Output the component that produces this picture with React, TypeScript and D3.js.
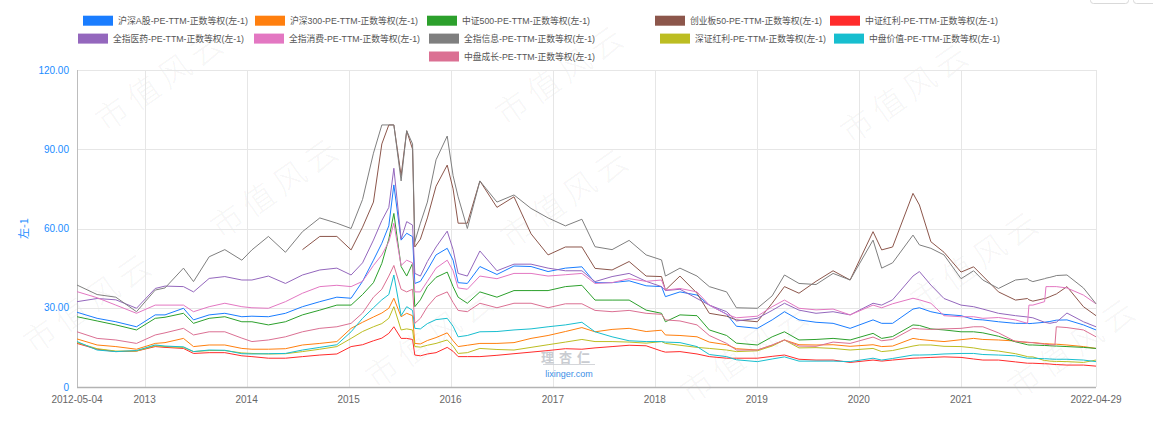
import React from "react";
import * as d3 from "d3";

// Sample dates (weekly closes picked at turning points)
const dateLabels = [
  "2012-05-04", "2012-07-15", "2012-09-20", "2012-12-03", "2013-02-08", "2013-03-15",
  "2013-05-20", "2013-06-25", "2013-08-20", "2013-10-15", "2013-12-15", "2014-01-20",
  "2014-03-20", "2014-05-20", "2014-07-20", "2014-09-20", "2014-11-20", "2015-01-10",
  "2015-02-20", "2015-03-31", "2015-04-30", "2015-05-25", "2015-06-12", "2015-07-08",
  "2015-07-28", "2015-08-18", "2015-08-26", "2015-09-15", "2015-10-10", "2015-11-10",
  "2015-12-20", "2016-01-10", "2016-01-28", "2016-03-01", "2016-04-15", "2016-06-15",
  "2016-08-15", "2016-10-15", "2016-12-15", "2017-02-15", "2017-04-15", "2017-06-01",
  "2017-08-01", "2017-10-01", "2017-12-01", "2018-01-25", "2018-02-08", "2018-04-01",
  "2018-06-01", "2018-07-15", "2018-09-15", "2018-10-20", "2019-01-03", "2019-02-25",
  "2019-04-10", "2019-06-01", "2019-08-01", "2019-10-01", "2019-12-01", "2020-02-21",
  "2020-03-23", "2020-05-01", "2020-07-13", "2020-08-05", "2020-09-15", "2020-11-01",
  "2021-01-01", "2021-02-15", "2021-03-20", "2021-05-15", "2021-07-15", "2021-08-27",
  "2021-09-01", "2021-09-15", "2021-10-27", "2021-11-01", "2021-11-15", "2021-12-03",
  "2021-12-08", "2022-01-15", "2022-03-15", "2022-04-29",
];

const hsA = [
  28.3, 26, 24.7, 22.8, 27.3, 27.3, 29.8, 25.4, 27.3, 27.9, 26.6, 26.8, 26.6, 27.9, 30.4, 32.3,
  34, 33.6, 40, 48, 54.4, 61, 76.5, 55.6, 58.2, 56.9, 39.2, 40, 44.3, 50, 52.5, 48, 39.5, 39.2,
  45.6, 42.6, 45.8, 45.6, 43.7, 45, 45.5, 39.5, 39.5, 40.2, 38.3, 38, 34.2, 36, 34.8, 31, 27.6,
  23, 22.2, 25.4, 28.5, 25.4, 24.5, 24.1, 22.2, 25.4, 24.1, 24.1, 29.5, 30, 28.5, 27.5, 27,
  25.6, 25.4, 24.7, 24.1, 24.1, 24, 24.1, 24.5, 24.6, 24.8, 25.2, 25.3, 25.4, 23.5, 21.6,
];
const hs300 = [
  18.2, 15.9, 15.3, 14.3, 16.5, 16.8, 18.4, 15.3, 15.9, 15.9, 14.6, 14.3, 14.3, 14.5, 15.9, 16.5,
  17.2, 22.2, 24.5, 26.5, 28, 29.8, 33.6, 26.6, 27.9, 27, 16.5, 16.3, 17.6, 18.7, 20.5, 17.5,
  15.3, 15.8, 16.5, 16.5, 16.8, 18.4, 19.5, 21, 22.5, 20.9, 21.8, 22.2, 21, 21.5, 19.7, 19.5,
  19, 17, 16, 14.5, 14, 15.8, 17.8, 16, 15.9, 16, 15.4, 16, 15.3, 15.5, 18.4, 18, 17.6, 17.2,
  17.9, 18.4, 18, 17.8, 17.4, 16.8, 16.8, 16.8, 16.4, 16.4, 16.3, 16.2, 16.2, 15.9, 15.3, 14.6,
];
const zz500 = [
  26.6, 25, 23.5, 21.6, 26, 26.4, 27.9, 24.1, 26, 26.6, 24.7, 24.7, 23.5, 24.7, 27.3, 29.1, 31,
  31, 35, 39.5, 46.8, 56, 65.7, 45.6, 42, 46.8, 30.4, 33, 38, 41.5, 43.5, 38, 34, 31.7, 36, 34,
  36.5, 36.5, 36.5, 38, 38.5, 32.9, 32.9, 32.9, 29.1, 27.9, 24.7, 27.3, 27, 21.6, 19.5, 16.6,
  15.9, 19, 20.9, 17.8, 18, 18.4, 17.8, 20.3, 18.4, 19.1, 23.5, 23.3, 22, 21.6, 20.9, 20.9,
  20.5, 19.2, 17.1, 16, 15.9, 15.9, 15.7, 15.7, 15.6, 15.5, 15.5, 15.3, 15, 14.6,
];
const cyb50 = [
  null, null, null, null, null, null, null, null, null, null, null, null, null, null, 52, 57, 57,
  51.9, 60.5, 70, 92, 99.2, 99.2, 80, 97, 90, 53, 56, 64, 76, 84, 75, 62, 62, 78, 68, 72, 58,
  50, 53, 53, 44.9, 44.3, 47.5, 42, 41.8, 36.7, 42, 35.5, 27.9, 26.8, 25.4, 24.7, 31.7, 38,
  35.5, 40, 44, 40.5, 58.8, 51.9, 53, 73.3, 68.9, 55, 51, 43.5, 45.5, 42, 36, 32.9, 33.5, 33,
  32.5, 33.5, 33.6, 34.2, 35, 35.2, 38, 30.4, 27,
];
const zzhl = [
  16.5, 14.3, 13.4, 13.6, 15.3, 15, 14.6, 12.7, 13, 13, 11.8, 11.5, 10.9, 10.9, 11.5, 12.1, 12.5,
  15.3, 16, 17.5, 18.5, 20.3, 22.8, 18.4, 18.4, 18, 12.1, 11.8, 12.5, 13, 15, 13.5, 11.5, 11.5,
  11.5, 12, 12.6, 13.2, 13.8, 14.5, 14.3, 14.8, 15.3, 15.8, 15.6, 13.6, 13.2, 13.4, 12.5, 11.5,
  10.9, 10.9, 10.9, 11.6, 12.1, 10.5, 10.2, 10.2, 9.3, 10.2, 9.8, 10.2, 10.9, 11, 11.2, 11.4,
  11.2, 10.6, 10.2, 10.2, 9.5, 9, 9, 9, 8.8, 8.8, 8.7, 8.5, 8.5, 8.3, 8.3, 7.9,
];
const qzyy = [
  32.3, 33.5, 33, 29.8, 37.3, 38.2, 38, 36, 41.1, 41.8, 40.5, 40.5, 42, 39.2, 42.4, 44.3, 45,
  42.4, 47, 55.6, 63, 68, 82.8, 56, 62.6, 61.3, 43, 42, 47.5, 53, 59, 52, 43, 42, 51.5, 44,
  46.5, 46.5, 45, 44, 44, 39.9, 41.8, 43, 40, 38, 36.5, 37, 33.5, 31, 28.5, 25, 26, 29, 31.7,
  29.1, 27.9, 28.5, 27.3, 31.7, 31, 33, 42, 43.7, 38.6, 33.5, 31, 30.4, 29.5, 27.9, 27, 26.5,
  26.4, 26.2, 24.5, 24.4, 24.1, 24.5, 24.5, 28, 24.7, 22.8,
];
const qzxf = [
  36.1, 33.8, 31, 27.9, 31, 31, 31, 28.5, 30.4, 31.7, 30.4, 30, 29.8, 32.3, 35.5, 38, 38.5, 38,
  40, 46, 50, 55, 62, 46, 48, 47, 36, 36, 40, 45, 48, 44, 37.5, 37, 42, 41, 43, 43, 42, 42.5,
  43, 39.2, 39.5, 41, 40, 40.5, 36.7, 37.3, 36, 31, 27.5, 26.2, 26.8, 30.4, 32.9, 29.8, 29.2,
  29.5, 27.3, 31, 30, 31.5, 33.6, 33, 31.7, 27, 26.6, 26.6, 26, 26.3, 25.4, 24.1, 31, 31, 32.3,
  38, 38, 38, 38, 37.5, 34.8, 31.5,
];
const qzxx = [
  38.6, 35, 34, 28.5, 36.7, 37.5, 45, 39.9, 49.3, 52, 48, 51.9, 57, 51, 58.8, 64, 62, 60, 71,
  88.5, 99.2, 99.2, 99.2, 78, 97, 92, 55, 62, 70, 86, 95, 80, 72, 60, 78, 70, 72.7, 67.6, 64,
  61, 63.5, 53.1, 52, 55.5, 50, 48.1, 42, 45, 42, 38, 36, 30, 29.8, 34.5, 42.4, 39.2, 38.8, 43,
  40.5, 55.6, 45, 47, 57.5, 53.8, 52.5, 50, 41, 44, 40.5, 37.3, 40.5, 41, 40.5, 39.9, 41, 41.2,
  41.5, 42, 42.2, 42.4, 37.5, 31.5,
];
const szhl = [
  16.8, 14.5, 13.6, 13.6, 15.6, 15.3, 15, 13.4, 13.8, 13.8, 12.9, 12.7, 12.5, 12.6, 13.4, 14.3,
  15.3, 18.4, 21, 22.8, 24, 26, 30.4, 21.6, 22, 21.6, 15.3, 15.1, 15.8, 16.5, 17.8, 15.5, 12.7,
  13, 14.6, 14.2, 14, 15, 16, 17, 18, 17.2, 17.2, 17, 16.6, 17.2, 16.5, 15.8, 15, 14.6, 14,
  13.4, 13.7, 15.5, 17.8, 14.8, 14.9, 14.6, 14, 14.6, 13.4, 13.8, 15.5, 15.9, 15.9, 15.4, 15.3,
  14.8, 14.2, 13.6, 12.6, 11.5, 11.4, 11.4, 10, 10, 9.8, 9.7, 9.7, 9.6, 9.3, 10.2,
];
const zpjz = [
  17.2, 14, 13.4, 13.8, 15.9, 15.5, 15.2, 13.4, 14, 13.9, 12.6, 12.5, 12.6, 12.7, 14, 15, 16,
  20.9, 26, 30, 33, 35, 42.4, 27, 30.4, 29, 22.2, 22, 24, 25.5, 26, 23, 19, 19.5, 20.9, 21,
  21.6, 22, 22.8, 23.5, 24.5, 20.9, 19, 17.5, 17.2, 17.2, 17, 16.8, 15.3, 12.3, 11.5, 10.3,
  9.6, 10.6, 11.4, 9.8, 9.8, 9.8, 9.6, 10.9, 10.2, 10.8, 12.1, 12.1, 12.2, 12.5, 12.7, 12.7,
  12.3, 12.1, 11.8, 10.9, 10.9, 10.9, 10.7, 10.7, 10.6, 10.5, 10.5, 10.5, 10.2, 9.6,
];
const zpcz = [
  20.9, 18.4, 17.8, 16.5, 19.7, 20.5, 22.2, 19.7, 20.9, 20.9, 18.5, 17.2, 17.8, 19, 20.9, 22.2,
  22.8, 24.1, 28, 34, 37, 42, 46, 37, 36, 37, 24.1, 26, 30.4, 34.2, 36, 32, 29, 28.5, 31.7, 30,
  31.7, 31.7, 30, 31.5, 31.5, 29, 28.5, 29, 27.9, 27.5, 25.4, 25, 23.5, 19.5, 16.5, 14, 14,
  15.9, 17.8, 15.5, 15.4, 17, 16.5, 18.9, 17.5, 18, 22.2, 22, 21.8, 22, 22.2, 22.8, 22.8, 20.5,
  17.2, 17, 16.9, 16.8, 16.2, 16.2, 16, 15.9, 22.8, 22.5, 21.6, 19,
];

const seriesNames = [
  "沪深A股-PE-TTM-正数等权(左-1)",
  "沪深300-PE-TTM-正数等权(左-1)",
  "中证500-PE-TTM-正数等权(左-1)",
  "创业板50-PE-TTM-正数等权(左-1)",
  "中证红利-PE-TTM-正数等权(左-1)",
  "全指医药-PE-TTM-正数等权(左-1)",
  "全指消费-PE-TTM-正数等权(左-1)",
  "全指信息-PE-TTM-正数等权(左-1)",
  "深证红利-PE-TTM-正数等权(左-1)",
  "中盘价值-PE-TTM-正数等权(左-1)",
  "中盘成长-PE-TTM-正数等权(左-1)",
];
const seriesValues = [hsA, hs300, zz500, cyb50, zzhl, qzyy, qzxf, qzxx, szhl, zpjz, zpcz];

const yTicks = [0, 30, 60, 90, 120];
const yearTicks = ["2013", "2014", "2015", "2016", "2017", "2018", "2019", "2020", "2021"];
const axisTitle = "左-1";
const watermarkText = "市值风云";

// Presentation
const colors = [
  "#1a7dff", "#ff7f0e", "#2ca02c", "#8c564b", "#ff2b2b", "#9467bd",
  "#e377c2", "#7f7f7f", "#bcbd22", "#17becf", "#db7093",
];
// legend: [row, swatch left, label width]
const legendPlacement: [number, number, number][] = [
  [0, 83, 130], [0, 255, 128], [0, 427, 128], [0, 655, 132], [0, 830, 133],
  [1, 78, 131], [1, 254, 131], [1, 429, 131], [1, 660, 131], [1, 834, 131],
  [2, 429, 131],
];
const legendRowY = [20.7, 38.6, 56.5];
const watermarkSpots: [number, number][] = [
  [160, 78], [560, 72], [905, 90],
  [275, 185], [565, 195], [975, 258],
  [88, 300], [430, 335], [745, 350], [1072, 345],
];

const W = 1153;
const H = 428;
const M = { left: 77, right: 1096, top: 70, bottom: 387 };
const FONT = "'Liberation Sans', Arial, 'Noto Sans CJK SC', sans-serif";

export default function App() {
  const parse = d3.utcParse("%Y-%m-%d");
  const dates = dateLabels.map((s) => parse(s) as Date);
  const x = d3
    .scaleUtc()
    .domain([dates[0], dates[dates.length - 1]])
    .range([M.left, M.right]);
  const y = d3.scaleLinear().domain([0, 120]).range([M.bottom, M.top]);

  const line = d3
    .line<number | null>()
    .defined((v) => v != null)
    .x((_, i) => x(dates[i]))
    .y((v) => y(v as number));

  const yearDates = yearTicks.map((s) => parse(s + "-01-01") as Date);
  const fmtEnd = d3.utcFormat("%Y-%m-%d");

  return (
    <svg
      width={W}
      height={H}
      style={{ position: "absolute", left: 0, top: 0, background: "#fff" }}
      fontFamily={FONT}
    >
      <rect width={W} height={H} fill="#fff" />

      {/* watermark */}
      <g fill="#000" fillOpacity={0.055} fontSize={32} fontFamily="'Noto Sans CJK SC', sans-serif" fontWeight={300}>
        {watermarkSpots.map(([cx, cy], i) => (
          <text
            key={i}
            x={cx}
            y={cy}
            textAnchor="middle"
            dominantBaseline="central"
            transform={`rotate(-35 ${cx} ${cy})`}
            letterSpacing={6}
          >
            {watermarkText}
          </text>
        ))}
      </g>

      {/* top-right toolbar edges */}
      <g fill="none" stroke="#d9d9d9">
        <rect x={1090.5} y={-20} width={38} height={23.5} rx={3} />
        <rect x={1133.5} y={-20} width={40} height={23.5} rx={3} />
      </g>

      {/* grid */}
      <g stroke="#e6e6e6" strokeWidth={1}>
        {yTicks.filter((t) => t > 0).map((t) => (
          <line key={t} x1={M.left} x2={M.right} y1={Math.round(y(t)) + 0.5} y2={Math.round(y(t)) + 0.5} />
        ))}
        {yearDates.map((d, i) => (
          <line key={i} x1={Math.round(x(d)) + 0.5} x2={Math.round(x(d)) + 0.5} y1={M.top} y2={M.bottom} />
        ))}
        <line x1={M.right + 0.5} x2={M.right + 0.5} y1={M.top} y2={M.bottom} />
      </g>

      {/* axes */}
      <line x1={M.left + 0.5} x2={M.left + 0.5} y1={M.top} y2={M.bottom} stroke="#bdbdbd" />
      <line x1={M.left} x2={M.right} y1={M.bottom + 0.5} y2={M.bottom + 0.5} stroke="#b3b3b3" strokeWidth={1.6} />

      {/* y tick labels */}
      <g fill="#1a8cff" fontSize={10} textAnchor="end">
        {yTicks.map((t) => (
          <text key={t} x={69} y={y(t)} dy="0.35em">
            {t === 0 ? "0" : d3.format(".2f")(t)}
          </text>
        ))}
      </g>
      <text
        transform={`translate(28 ${(M.top + M.bottom) / 2}) rotate(-90)`}
        textAnchor="middle"
        fill="#1a8cff"
        fontSize={11}
        fontFamily="'Noto Sans CJK SC', sans-serif"
      >
        {axisTitle}
      </text>

      {/* x tick labels */}
      <g fill="#666" fontSize={10} textAnchor="middle">
        <text x={x(dates[0])} y={403}>{fmtEnd(dates[0])}</text>
        {yearDates.map((d, i) => (
          <text key={i} x={x(d)} y={403}>{yearTicks[i]}</text>
        ))}
        <text x={x(dates[dates.length - 1])} y={403}>{fmtEnd(dates[dates.length - 1])}</text>
      </g>

      {/* logo */}
      <g textAnchor="middle">
        <text x={568} y={362} fontSize={13} fontWeight={700} fill="#c9ccd1" letterSpacing={5}
          fontFamily="'Noto Sans CJK SC', sans-serif">理杏仁</text>
        <line x1={543} x2={595} y1={364.5} y2={364.5} stroke="#c9ccd1" strokeWidth={0.8} />
        <text x={569} y={377} fontSize={9} fill="#3d8fe6">lixinger.com</text>
      </g>

      {/* series */}
      <g fill="none" strokeWidth={1} strokeLinejoin="round">
        {seriesValues.map((vals, i) => (
          <path key={i} d={line(vals) || ""} stroke={colors[i]} />
        ))}
      </g>

      {/* legend */}
      <g fontSize={9.5} fill="#555">
        {seriesNames.map((name, i) => {
          const [row, sx, tw] = legendPlacement[i];
          const cy = legendRowY[row];
          return (
            <g key={i}>
              <rect x={sx} y={cy - 5} width={30} height={10} fill={colors[i]} />
              <text x={sx + 35} y={cy} dy="0.35em" textLength={tw} lengthAdjust="spacingAndGlyphs">
                {name}
              </text>
            </g>
          );
        })}
      </g>
    </svg>
  );
}
